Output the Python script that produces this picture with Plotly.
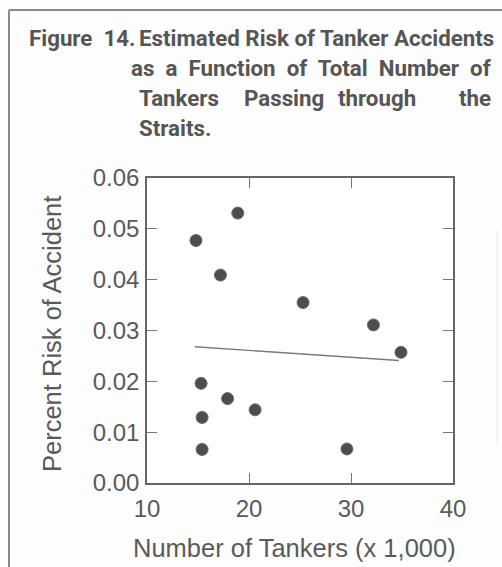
import plotly.graph_objects as go

# Tanker traffic (thousands) vs. estimated accident risk (%)
tankers = [14.8, 18.9, 17.2, 25.3, 32.2, 34.9, 15.3, 17.9, 15.4, 20.6, 15.4, 29.6]
risk = [0.0477, 0.0531, 0.0409, 0.0355, 0.0311, 0.0257, 0.0196, 0.0166, 0.0129, 0.0144, 0.0066, 0.0067]

# Fitted trend line end points
trend_x = [14.7, 34.7]
trend_y = [0.0268, 0.0241]

x_ticks = [10, 20, 30, 40]
y_ticks = [0.00, 0.01, 0.02, 0.03, 0.04, 0.05, 0.06]

W, H = 502, 567
L, R, T, B = 147, 453, 178, 483

fig = go.Figure()
fig.add_trace(go.Scatter(
    x=trend_x, y=trend_y, mode="lines",
    line=dict(color="#7a7a7a", width=1.3), hoverinfo="skip", showlegend=False,
))
fig.add_trace(go.Scatter(
    x=tankers, y=risk, mode="markers",
    marker=dict(color="#4d4d4d", size=12, line=dict(color="#6a6a6a", width=1)),
    showlegend=False,
))

sans = "Liberation Sans, Arial, sans-serif"
axis_font = dict(family=sans, size=24, color="#5a5a5a")

fig.update_xaxes(
    range=[10, 40], tickvals=x_ticks, ticktext=[str(v) for v in x_ticks],
    showgrid=False, zeroline=False, showline=True, linecolor="#666", linewidth=1.5,
    mirror="ticks", ticks="inside", ticklen=10, tickcolor="#777", tickwidth=1,
    tickfont=axis_font, ticklabelstandoff=3,
)
fig.update_yaxes(
    range=[0, 0.06], tickvals=y_ticks, ticktext=[f"{v:.2f}" for v in y_ticks],
    showgrid=False, zeroline=False, showline=True, linecolor="#666", linewidth=1.5,
    mirror="ticks", ticks="inside", ticklen=10, tickcolor="#777", tickwidth=1,
    tickfont=axis_font, ticklabelstandoff=1,
)

def px_x(p):
    return (p - L) / (R - L)

def px_y(p):
    return (B - p) / (B - T)

# Axis titles
title_axis_font = dict(family=sans, size=25.5, color="#5a5a5a")
fig.add_annotation(text="Number of Tankers (x 1,000)", xref="paper", yref="paper",
                   x=px_x(294), y=px_y(548), xanchor="center", yanchor="middle",
                   showarrow=False, font=title_axis_font)
fig.add_annotation(text="Percent Risk of Accident", xref="paper", yref="paper",
                   x=px_x(52), y=px_y(334), xanchor="center", yanchor="middle",
                   textangle=-90, showarrow=False, font=title_axis_font)

# Outer frame of the figure panel
frame = dict(color="#8a8a8a", width=2)
fig.add_shape(type="line", xref="paper", yref="paper",
              x0=px_x(9), x1=px_x(W + 5), y0=px_y(10), y1=px_y(10), line=frame)
fig.add_shape(type="line", xref="paper", yref="paper",
              x0=px_x(9), x1=px_x(9), y0=px_y(10), y1=px_y(H + 5), line=frame)
fig.add_shape(type="line", xref="paper", yref="paper",
              x0=px_x(497), x1=px_x(497), y0=px_y(230), y1=px_y(445),
              line=dict(color="#efefef", width=1))

title_font = dict(family="Roboto, Liberation Sans, sans-serif", size=22.3, color="#555555", weight=700)

def add_text(text, x, y, anchor="left"):
    fig.add_annotation(text=text, xref="paper", yref="paper", x=px_x(x), y=px_y(y),
                       xanchor=anchor, yanchor="middle", showarrow=False, font=title_font)

add_text("Figure  14.", 27, 38)
add_text("Estimated Risk of Tanker Accidents", 137, 38)
add_text("as  a  Function  of  Total  Number  of", 493, 68, "right")
add_text("Tankers", 137, 98)
add_text("Passing", 242, 98)
add_text("through", 336, 98)
add_text("the", 493, 98, "right")
add_text("Straits.", 137, 128)

fig.update_layout(
    width=W, height=H,
    margin=dict(l=L, r=W - R, t=T, b=H - B),
    paper_bgcolor="#fdfdfd", plot_bgcolor="#ffffff",
)

fig.write_html("out.html")
